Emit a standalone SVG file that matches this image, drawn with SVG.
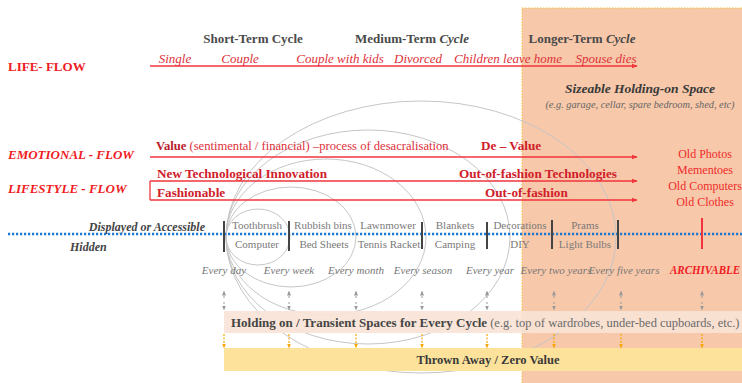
<svg xmlns="http://www.w3.org/2000/svg" width="742" height="383" viewBox="0 0 742 383">
<defs>
<style>
.serif{font-family:"Liberation Serif","Times New Roman",serif}
.head{font-family:"Liberation Serif",serif;font-size:13px;font-weight:bold;fill:#4a4a4a}
.life{font-family:"Liberation Serif",serif;font-size:13px;font-style:italic;fill:#e0303a}
.flowlbl{font-family:"Liberation Serif",serif;font-size:13px;font-weight:bold;fill:#f01c24}
.flowtxt{font-family:"Liberation Serif",serif;font-size:12.6px;fill:#e0303a}
.bred{font-family:"Liberation Serif",serif;font-size:13.2px;font-weight:bold;fill:#d0202a}
.item{font-family:"Liberation Serif",serif;font-size:11px;fill:#7a7a7a;text-anchor:middle}
.freq{font-family:"Liberation Serif",serif;font-size:11px;font-style:italic;fill:#777;text-anchor:middle}
.arch{font-family:"Liberation Serif",serif;font-size:11.5px;font-style:italic;font-weight:bold;fill:#f01c24}
.oldtxt{font-family:"Liberation Serif",serif;font-size:12px;fill:#ee2b2b;text-anchor:middle}
.redline{stroke:#f0343c;stroke-width:1.3;fill:none}
.tick{stroke:#444;stroke-width:2}
.ell{fill:none;stroke:#c6c6c6;stroke-width:1}
.gdash{stroke:#999;stroke-width:1;stroke-dasharray:2,2}
.ydash{stroke:#f5a800;stroke-width:1.2;stroke-dasharray:2,1.5}
.band{font-family:"Liberation Serif",serif;font-size:12.5px}
</style>
<marker id="ar" viewBox="0 0 10 10" refX="9" refY="5" markerWidth="6" markerHeight="6" orient="auto" markerUnits="userSpaceOnUse">
<path d="M0,1 L10,5 L0,9 Z" fill="#f0343c"/>
</marker>
<marker id="ag" viewBox="0 0 10 10" refX="9" refY="5" markerWidth="5" markerHeight="5" orient="auto" markerUnits="userSpaceOnUse">
<path d="M0,1 L10,5 L0,9 Z" fill="#999"/>
</marker>
<marker id="ay" viewBox="0 0 10 10" refX="9" refY="5" markerWidth="5" markerHeight="5" orient="auto" markerUnits="userSpaceOnUse">
<path d="M0,1 L10,5 L0,9 Z" fill="#f5a800"/>
</marker>
</defs>
<rect width="742" height="383" fill="#ffffff"/>

<g id="longer-term-zone">
<rect x="522" y="8" width="220" height="375" fill="#f7c8a9"/>
<path d="M522,383 V8 H742" fill="none" stroke="#f3c23a" stroke-width="1" stroke-dasharray="1.5,1.5"/>
</g>

<g id="cycle-loops">
<ellipse class="ell" cx="258" cy="237" rx="32" ry="28"/>
<ellipse class="ell" cx="291" cy="237" rx="65" ry="50"/>
<ellipse class="ell" cx="326" cy="237" rx="100" ry="78"/>
<ellipse class="ell" cx="368" cy="237" rx="142" ry="107"/>
<ellipse class="ell" cx="421" cy="237" rx="195" ry="136"/>
</g>

<g id="cycle-headers">
<text class="head" x="253" y="43" text-anchor="middle">Short-Term Cycle</text>
<text class="head" x="412" y="43" text-anchor="middle">Medium-Term <tspan font-style="italic">Cycle</tspan></text>
<text class="head" x="582" y="43" text-anchor="middle">Longer-Term <tspan font-style="italic">Cycle</tspan></text>
</g>

<g id="life-flow">
<text class="flowlbl" x="8" y="71">LIFE- FLOW</text>
<text class="life" x="175" y="63" text-anchor="middle">Single</text>
<text class="life" x="240" y="63" text-anchor="middle">Couple</text>
<text class="life" x="340" y="63" text-anchor="middle">Couple with kids</text>
<text class="life" x="418" y="63" text-anchor="middle">Divorced</text>
<text class="life" x="508" y="63" text-anchor="middle">Children leave home</text>
<text class="life" x="606" y="63" text-anchor="middle">Spouse dies</text>
</g>

<g id="sizeable-space">
<text x="640" y="93" text-anchor="middle" class="serif" font-size="13.5" font-weight="bold" font-style="italic" fill="#3a3a3a">Sizeable Holding-on Space</text>
<text x="640" y="108" text-anchor="middle" class="serif" font-size="10.3" font-style="italic" fill="#666">(e.g. garage, cellar, spare bedroom, shed, etc)</text>
</g>

<g id="emotional-flow">
<text class="flowlbl" x="8" y="159" font-style="italic">EMOTIONAL - FLOW</text>
<text class="flowtxt" x="156" y="150"><tspan font-weight="bold" fill="#b8202a">Value</tspan> (sentimental / financial) –process of desacralisation</text>
<text class="bred" x="481" y="150" fill="#b8202a">De – Value</text>
</g>

<g id="lifestyle-flow">
<text class="flowlbl" x="8" y="193" font-style="italic">LIFESTYLE - FLOW</text>
<text class="bred" x="157" y="178">New Technological Innovation</text>
<text class="bred" x="459" y="178">Out-of-fashion Technologies</text>
<text class="bred" x="157" y="197">Fashionable</text>
<text class="bred" x="485" y="197">Out-of-fashion</text>
</g>

<g id="archivable-items">
<text class="oldtxt" x="705" y="158">Old Photos</text>
<text class="oldtxt" x="705" y="174">Mementoes</text>
<text class="oldtxt" x="705" y="190">Old Computers</text>
<text class="oldtxt" x="705" y="206">Old Clothes</text>
</g>

<g id="visibility-divider">
<text x="205" y="231" text-anchor="end" class="serif" font-size="12" font-weight="bold" font-style="italic" fill="#444">Displayed or Accessible</text>
<text x="70" y="251" class="serif" font-size="12" font-weight="bold" font-style="italic" fill="#444">Hidden</text>
<line x1="8" y1="234" x2="742" y2="234" stroke="#1f78d1" stroke-width="2.5" stroke-dasharray="2.2,1.8"/>
</g>

<g id="cycle-items">
<text class="item" x="257" y="229">Toothbrush</text>
<text class="item" x="257" y="248">Computer</text>
<text class="item" x="323" y="229">Rubbish bins</text>
<text class="item" x="324" y="248">Bed Sheets</text>
<text class="item" x="388" y="229">Lawnmower</text>
<text class="item" x="389" y="248">Tennis Racket</text>
<text class="item" x="455" y="229">Blankets</text>
<text class="item" x="455" y="248">Camping</text>
<text class="item" x="520" y="229">Decorations</text>
<text class="item" x="520" y="248">DIY</text>
<text class="item" x="585" y="229">Prams</text>
<text class="item" x="585" y="248">Light Bulbs</text>
</g>

<g id="frequencies">
<text class="freq" x="224" y="274">Every day</text>
<text class="freq" x="289" y="274">Every week</text>
<text class="freq" x="356" y="274">Every month</text>
<text class="freq" x="423" y="274">Every season</text>
<text class="freq" x="490" y="274">Every year</text>
<text class="freq" x="556" y="274">Every two years</text>
<text class="freq" x="624" y="274">Every five years</text>
<text class="arch" x="670" y="274" textLength="70" lengthAdjust="spacingAndGlyphs">ARCHIVABLE</text>
</g>

<g id="holding-band">
<rect x="224" y="311" width="518" height="22" fill="#f9e3d6" fill-opacity="0.92"/>
<text class="band" x="231" y="327"><tspan font-weight="bold" fill="#454545" font-size="13">Holding on / Transient Spaces for Every Cycle</tspan><tspan fill="#6a6a6a"> (e.g. top of wardrobes, under-bed cupboards, etc.)</tspan></text>
</g>

<g id="thrown-away-band">
<rect x="224" y="348" width="518" height="23" fill="#fde29b"/>
<text class="band" x="488" y="364" text-anchor="middle" font-weight="bold" font-size="13" fill="#3a3a3a">Thrown Away / Zero Value</text>
</g>

<g id="connectors">
<line class="redline" x1="150" y1="66" x2="637" y2="66" marker-end="url(#ar)"/>
<line class="redline" x1="150" y1="157" x2="637" y2="157" marker-end="url(#ar)"/>
<line class="redline" x1="150" y1="181" x2="637" y2="181" marker-end="url(#ar)"/>
<line class="redline" x1="150" y1="200" x2="637" y2="200" marker-end="url(#ar)"/>
<line class="redline" x1="150" y1="181" x2="150" y2="200"/>
<line class="tick" x1="224" y1="221" x2="224" y2="252"/>
<line class="tick" x1="289" y1="221" x2="289" y2="251"/>
<line class="tick" x1="422" y1="222" x2="422" y2="249"/>
<line class="tick" x1="487" y1="222" x2="487" y2="249"/>
<line class="tick" x1="552" y1="220" x2="552" y2="249"/>
<line class="tick" x1="618" y1="220" x2="618" y2="249"/>
<line x1="702" y1="218" x2="702" y2="249" stroke="#f0343c" stroke-width="2"/>
<g>
<line class="gdash" x1="224" y1="298" x2="224" y2="291" marker-end="url(#ag)"/><line class="gdash" x1="224" y1="302" x2="224" y2="310" marker-end="url(#ag)"/>
<line class="gdash" x1="289" y1="298" x2="289" y2="291" marker-end="url(#ag)"/><line class="gdash" x1="289" y1="302" x2="289" y2="310" marker-end="url(#ag)"/>
<line class="gdash" x1="356" y1="298" x2="356" y2="291" marker-end="url(#ag)"/><line class="gdash" x1="356" y1="302" x2="356" y2="310" marker-end="url(#ag)"/>
<line class="gdash" x1="422" y1="298" x2="422" y2="291" marker-end="url(#ag)"/><line class="gdash" x1="422" y1="302" x2="422" y2="310" marker-end="url(#ag)"/>
<line class="gdash" x1="487" y1="298" x2="487" y2="291" marker-end="url(#ag)"/><line class="gdash" x1="487" y1="302" x2="487" y2="310" marker-end="url(#ag)"/>
<line class="gdash" x1="554" y1="298" x2="554" y2="291" marker-end="url(#ag)"/><line class="gdash" x1="554" y1="302" x2="554" y2="310" marker-end="url(#ag)"/>
<line class="gdash" x1="621" y1="298" x2="621" y2="291" marker-end="url(#ag)"/><line class="gdash" x1="621" y1="302" x2="621" y2="310" marker-end="url(#ag)"/>
<line class="gdash" x1="702" y1="298" x2="702" y2="291" marker-end="url(#ag)"/><line class="gdash" x1="702" y1="302" x2="702" y2="310" marker-end="url(#ag)"/>
</g>
<g>
<line class="ydash" x1="224" y1="334" x2="224" y2="348" marker-end="url(#ay)"/>
<line class="ydash" x1="289" y1="334" x2="289" y2="348" marker-end="url(#ay)"/>
<line class="ydash" x1="356" y1="334" x2="356" y2="348" marker-end="url(#ay)"/>
<line class="ydash" x1="422" y1="334" x2="422" y2="348" marker-end="url(#ay)"/>
<line class="ydash" x1="487" y1="334" x2="487" y2="348" marker-end="url(#ay)"/>
<line class="ydash" x1="554" y1="334" x2="554" y2="348" marker-end="url(#ay)"/>
<line class="ydash" x1="621" y1="334" x2="621" y2="348" marker-end="url(#ay)"/>
<line class="ydash" x1="702" y1="334" x2="702" y2="348" marker-end="url(#ay)"/>
</g>
</g>
</svg>
